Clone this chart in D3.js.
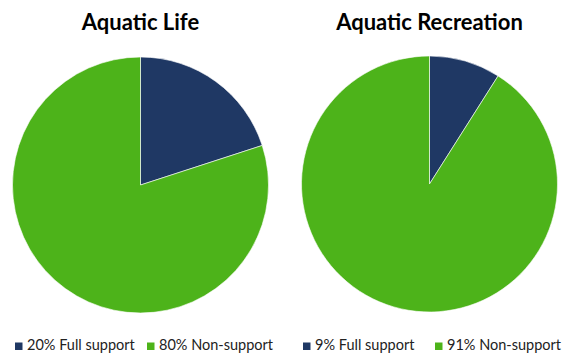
<!DOCTYPE html>
<html>
<head>
<meta charset="utf-8">
<script src="https://cdn.jsdelivr.net/npm/d3@7"></script>
<style>
  body { margin: 0; background: #fff; }
  svg { display: block; }
</style>
</head>
<body>
<svg id="chart" width="563" height="356"></svg>
<script>
// chart values
const charts = ['Aquatic Life', 'Aquatic Recreation'];
const categories = ['Full support', 'Non-support'];
const lifeValues = [20, 80];
const recreationValues = [9, 91];
const colors = ['#1f3864', '#4db31a'];

const svg = d3.select('#chart');
const color = d3.scaleOrdinal().domain(categories).range(colors);

const layout = [
  { title: charts[0], values: lifeValues, cx: 140.5, cy: 185, r: 128, legendX: [15, 147] },
  { title: charts[1], values: recreationValues, cx: 429.5, cy: 184, r: 128, legendX: [303, 435] }
];

const pie = d3.pie().sort(null).value(function(d) { return d.value; });

layout.forEach(function(p) {
  const data = categories.map(function(c, i) {
    return { name: c, value: p.values[i] };
  });
  const arc = d3.arc().innerRadius(0).outerRadius(p.r);

  const g = svg.append('g')
    .attr('transform', 'translate(' + p.cx + ',' + p.cy + ')');
  g.selectAll('path')
    .data(pie(data))
    .enter()
    .append('path')
    .attr('d', arc)
    .attr('fill', function(d) { return color(d.data.name); })
    .attr('stroke', '#ffffff')
    .attr('stroke-width', 0.6);

  svg.append('text')
    .attr('x', p.cx)
    .attr('y', 30)
    .attr('text-anchor', 'middle')
    .attr('font-family', 'Lato, "Open Sans", sans-serif')
    .attr('font-weight', 'bold')
    .attr('font-size', 22)
    .attr('fill', '#000')
    .text(p.title);

  const item = svg.selectAll(null)
    .data(data)
    .enter()
    .append('g')
    .attr('transform', function(d, i) { return 'translate(' + p.legendX[i] + ',350)'; });
  item.append('rect')
    .attr('x', 0)
    .attr('y', -7.5)
    .attr('width', 7.5)
    .attr('height', 7.5)
    .attr('fill', function(d) { return color(d.name); });
  item.append('text')
    .attr('x', 12)
    .attr('y', 0)
    .attr('font-family', 'Lato, "Open Sans", sans-serif')
    .attr('font-size', 14.5)
    .attr('fill', '#222')
    .text(function(d) { return d.value + '% ' + d.name; });
});
</script>
</body>
</html>
